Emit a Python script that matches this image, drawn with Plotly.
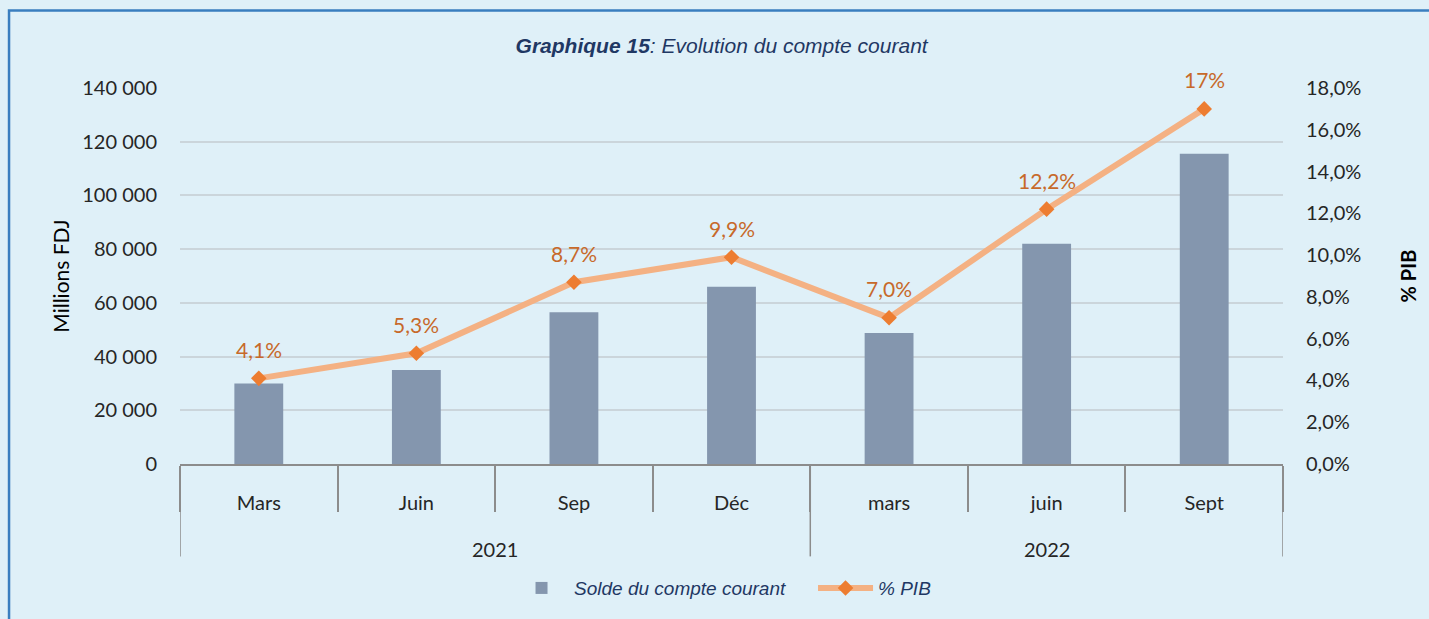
import plotly.graph_objects as go

years = ["2021", "2021", "2021", "2021", "2022", "2022", "2022"]
months = ["Mars", "Juin", "Sep", "Déc", "mars", "juin", "Sept"]
solde = [30000, 35000, 56500, 66000, 48800, 82000, 115500]
pct_pib = [4.1, 5.3, 8.7, 9.9, 7.0, 12.2, 17.0]
pct_labels = ["4,1%", "5,3%", "8,7%", "9,9%", "7,0%", "12,2%", "17%"]

BG = "#dff0f8"
BAR = "#8496ae"
LINE = "#f4b183"
MARK = "#ed7d31"
LAB = "#c7692a"
NAVY = "#1f3864"
TXT = "#262626"
AXC = "#8c8c8c"
FONT = "Lato"

fig = go.Figure()
fig.add_trace(go.Bar(
    x=months, y=solde, name="Solde du compte courant",
    marker=dict(color=BAR, line=dict(width=0)), width=0.31,
))
fig.add_trace(go.Scatter(
    x=months, y=pct_pib, name="% PIB", yaxis="y2",
    mode="lines+markers",
    line=dict(color=LINE, width=6),
    marker=dict(symbol="diamond", color=MARK, size=12),
))

annotations = [
    dict(x=i, y=v, xref="x", yref="y2", text=t, showarrow=False,
         yshift=29, font=dict(family=FONT, size=21, color=LAB))
    for i, (v, t) in enumerate(zip(pct_pib, pct_labels))
]

# year groups (outer level of the category axis)
groups = []
for i, yv in enumerate(years):
    if not groups or groups[-1][0] != yv:
        groups.append([yv, i, i])
    else:
        groups[-1][2] = i

shapes = [dict(
    type="rect", xref="paper", yref="paper",
    x0=-0.155, x1=1.5, y0=-0.7, y1=1.206,
    line=dict(color="#3a7ebf", width=2.5), fillcolor="rgba(0,0,0,0)", layer="below",
)]
bounds = [groups[0][1] - 0.5] + [g[2] + 0.5 for g in groups]
for b in bounds:
    shapes.append(dict(type="line", xref="x", yref="paper", x0=b, x1=b, y0=0, y1=-0.2457,
                       line=dict(color=AXC, width=1.5)))
for g in groups:
    annotations.append(dict(x=(g[1] + g[2]) / 2, y=-0.2272, xref="x", yref="paper",
                            text=g[0], showarrow=False, yanchor="middle",
                            font=dict(family=FONT, size=20, color=TXT)))

fig.update_layout(
    width=1429, height=619,
    paper_bgcolor=BG, plot_bgcolor=BG,
    margin=dict(l=180, r=146, t=88, b=152),
    separators=", ",
    bargap=0.69,
    showlegend=True,
    annotations=annotations,
    shapes=shapes,
    title=dict(
        text="<b><i>Graphique 15</i></b><i>: Evolution du compte courant</i>",
        font=dict(family="Liberation Sans, Arial", size=21, color=NAVY),
        xref="container", x=0.505, xanchor="center",
        yref="container", y=0.927, yanchor="middle",
    ),
    legend=dict(
        orientation="h", xref="paper", x=0.2983, xanchor="left",
        y=-0.33, yanchor="middle",
        font=dict(family="Liberation Sans, Arial", size=19, color=NAVY, style="italic"),
        bgcolor="rgba(0,0,0,0)", itemwidth=55, entrywidth=234,
    ),
    xaxis=dict(
        type="category", categoryorder="array", categoryarray=months,
        range=[-0.5, len(months) - 0.5],
        showline=True, linecolor=AXC, linewidth=1.5,
        ticks="outside", tickson="boundaries", ticklen=46,
        tickcolor=AXC, tickwidth=1.5,
        ticklabelstandoff=20,
        tickfont=dict(family=FONT, size=20, color=TXT),
        showgrid=False,
    ),
    yaxis=dict(
        range=[0, 140000], dtick=20000, tickformat=",d",
        showgrid=True, gridcolor="#cbd5db", gridwidth=1.5,
        zeroline=False, showline=False,
        tickfont=dict(family=FONT, size=20, color=TXT),
        ticklabelstandoff=22,
        title=dict(text="Millions FDJ", font=dict(family=FONT, size=21, color="#000000"), standoff=6),
    ),
    yaxis2=dict(
        range=[0, 18], dtick=2, tickformat=".1f", ticksuffix="%",
        overlaying="y", side="right",
        showgrid=False, zeroline=False, showline=False,
        tickfont=dict(family=FONT, size=20, color=TXT),
        ticklabelstandoff=22,
        title=dict(text="<b>% PIB</b>", font=dict(family=FONT, size=20, color="#000000"), standoff=41),
    ),
)

fig.write_html("out.html", config={"displayModeBar": False},
               post_script="document.body.style.margin='0';")
